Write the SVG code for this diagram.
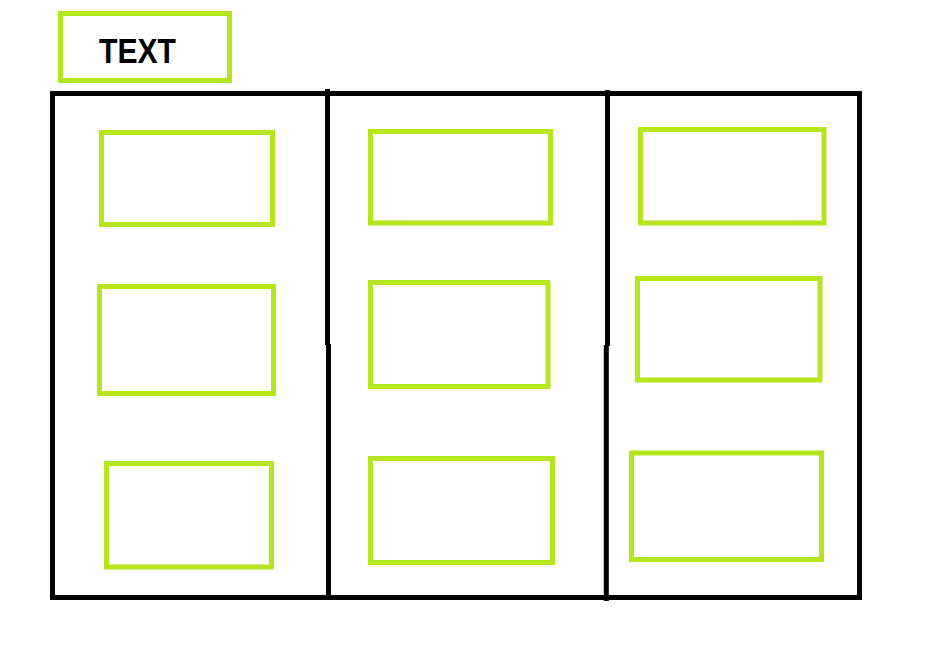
<svg xmlns="http://www.w3.org/2000/svg" width="935" height="648" viewBox="0 0 935 648">
<style>
.g{fill:none;stroke:#b5e61d;stroke-width:5}
.k{fill:none;stroke:#000;stroke-width:5}
.t{font-family:"Liberation Sans",Arial,sans-serif;font-weight:bold;font-size:35px;fill:#000}
</style>
<rect width="935" height="648" fill="#fff"/>
<g id="title">
<rect class="g" x="60.5" y="13.5" width="169" height="67"/>
<text class="t" x="99" y="62.5" textLength="77" lengthAdjust="spacingAndGlyphs">TEXT</text>
</g>
<g id="frame">
<rect class="k" x="52.5" y="93.5" width="807" height="504"/>
<line class="k" x1="327.5" y1="89" x2="327.5" y2="345"/>
<line class="k" x1="328.5" y1="344" x2="328.5" y2="598"/>
<line class="k" x1="607.5" y1="90" x2="607.5" y2="346"/>
<line class="k" x1="606.3" y1="345" x2="606.3" y2="601"/>
</g>
<g id="c1r1"><rect class="g" x="101.5" y="132.5" width="171" height="92"/></g>
<g id="c1r2"><rect class="g" x="99.5" y="286.5" width="174" height="107"/></g>
<g id="c1r3"><rect class="g" x="106.5" y="463.5" width="165" height="103.5"/></g>
<g id="c2r1"><rect class="g" x="370.5" y="131.5" width="180" height="91.5"/></g>
<g id="c2r2"><rect class="g" x="370.5" y="282.5" width="177.5" height="104"/></g>
<g id="c2r3"><rect class="g" x="370.5" y="458.5" width="182" height="104"/></g>
<g id="c3r1"><rect class="g" x="640.5" y="129.5" width="183.5" height="93.5"/></g>
<g id="c3r2"><rect class="g" x="637.5" y="278.5" width="182.5" height="101.5"/></g>
<g id="c3r3"><rect class="g" x="631.5" y="453" width="190" height="106.5"/></g>
<g id="connectors"></g>
</svg>
